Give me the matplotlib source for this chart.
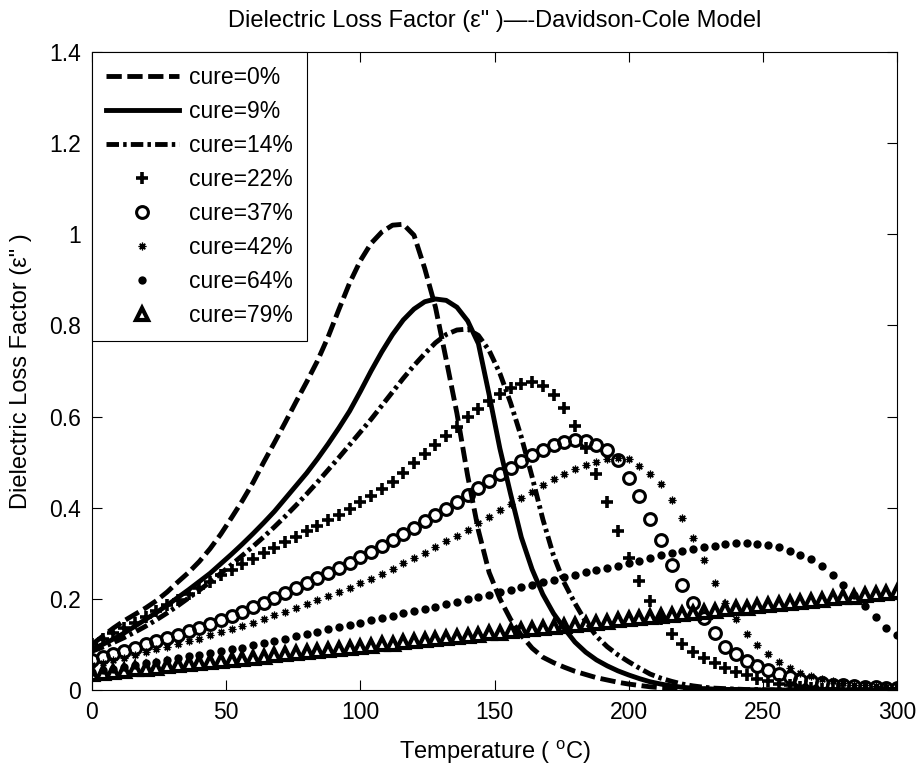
import matplotlib
matplotlib.use("Agg")
import matplotlib.pyplot as plt
import numpy as np
from matplotlib import ticker

plt.rcParams['font.family'] = ['Liberation Sans', 'DejaVu Sans']
plt.rcParams['mathtext.fontset'] = 'custom'
plt.rcParams['mathtext.rm'] = 'Liberation Sans'
plt.rcParams['lines.scale_dashes'] = False

# temperature grid (deg C)
temp = np.arange(0, 301, 4)

labels = ["cure=0%", "cure=9%", "cure=14%", "cure=22%",
          "cure=37%", "cure=42%", "cure=64%", "cure=79%"]

cure_0 = [0.100, 0.118, 0.136, 0.152, 0.166, 0.180, 0.196, 0.215, 0.237, 0.258,
          0.282, 0.310, 0.342, 0.378, 0.415, 0.455, 0.500, 0.543, 0.587, 0.632,
          0.676, 0.722, 0.775, 0.835, 0.893, 0.942, 0.980, 1.005, 1.020, 1.022,
          0.998, 0.925, 0.840, 0.725, 0.607, 0.470, 0.350, 0.258, 0.200, 0.155,
          0.120, 0.092, 0.072, 0.060, 0.050, 0.041, 0.034, 0.027, 0.022, 0.017,
          0.013, 0.010, 0.007, 0.005, 0.004, 0.003, 0.002, 0.002, 0.001, 0.001,
          0.001, 0, 0, 0, 0, 0, 0, 0, 0, 0,
          0, 0, 0, 0, 0, 0]

cure_9 = [0.090, 0.100, 0.112, 0.125, 0.140, 0.155, 0.170, 0.186, 0.203, 0.220,
          0.238, 0.256, 0.277, 0.298, 0.320, 0.343, 0.367, 0.392, 0.420, 0.448,
          0.476, 0.507, 0.540, 0.575, 0.612, 0.655, 0.700, 0.742, 0.780, 0.812,
          0.836, 0.852, 0.858, 0.855, 0.840, 0.810, 0.760, 0.648, 0.530, 0.430,
          0.335, 0.265, 0.210, 0.168, 0.135, 0.105, 0.083, 0.066, 0.053, 0.042,
          0.033, 0.025, 0.018, 0.013, 0.009, 0.006, 0.004, 0.003, 0.002, 0.001,
          0.001, 0, 0, 0, 0, 0, 0, 0, 0, 0,
          0, 0, 0, 0, 0, 0]

cure_14 = [0.085, 0.094, 0.104, 0.115, 0.127, 0.140, 0.154, 0.169, 0.185, 0.202,
           0.219, 0.237, 0.256, 0.275, 0.295, 0.315, 0.336, 0.358, 0.381, 0.405,
           0.430, 0.456, 0.483, 0.510, 0.538, 0.566, 0.594, 0.624, 0.654, 0.684,
           0.712, 0.738, 0.762, 0.780, 0.790, 0.792, 0.778, 0.745, 0.695, 0.630,
           0.555, 0.468, 0.375, 0.295, 0.235, 0.190, 0.150, 0.118, 0.095, 0.077,
           0.062, 0.048, 0.035, 0.026, 0.019, 0.013, 0.009, 0.006, 0.004, 0.003,
           0.002, 0.001, 0.001, 0, 0, 0, 0, 0, 0, 0,
           0, 0, 0, 0, 0, 0]

cure_22 = [0.100, 0.112, 0.124, 0.136, 0.148, 0.160, 0.173, 0.186, 0.198, 0.211,
           0.224, 0.238, 0.252, 0.264, 0.276, 0.288, 0.300, 0.312, 0.324, 0.336,
           0.348, 0.360, 0.372, 0.385, 0.398, 0.412, 0.426, 0.441, 0.457, 0.477,
           0.498, 0.518, 0.538, 0.558, 0.578, 0.598, 0.617, 0.635, 0.650, 0.662,
           0.672, 0.675, 0.668, 0.648, 0.618, 0.580, 0.532, 0.475, 0.412, 0.348,
           0.290, 0.240, 0.195, 0.155, 0.123, 0.100, 0.083, 0.070, 0.059, 0.049,
           0.040, 0.032, 0.025, 0.019, 0.014, 0.010, 0.007, 0.005, 0.003, 0.002,
           0.001, 0.001, 0, 0, 0, 0]

cure_37 = [0.065, 0.072, 0.079, 0.086, 0.093, 0.100, 0.107, 0.114, 0.121, 0.129,
           0.137, 0.145, 0.154, 0.163, 0.172, 0.182, 0.192, 0.202, 0.212, 0.223,
           0.234, 0.245, 0.256, 0.267, 0.279, 0.291, 0.303, 0.316, 0.329, 0.342,
           0.356, 0.370, 0.384, 0.398, 0.413, 0.428, 0.443, 0.458, 0.473, 0.488,
           0.502, 0.515, 0.527, 0.537, 0.544, 0.548, 0.546, 0.538, 0.526, 0.505,
           0.465, 0.425, 0.375, 0.330, 0.275, 0.230, 0.192, 0.158, 0.125, 0.095,
           0.078, 0.064, 0.053, 0.044, 0.036, 0.029, 0.023, 0.019, 0.015, 0.012,
           0.010, 0.008, 0.007, 0.006, 0.005, 0.005]

cure_42 = [0.055, 0.060, 0.066, 0.071, 0.077, 0.083, 0.089, 0.095, 0.101, 0.107,
           0.113, 0.120, 0.127, 0.134, 0.141, 0.148, 0.156, 0.164, 0.172, 0.180,
           0.189, 0.197, 0.206, 0.215, 0.224, 0.234, 0.244, 0.255, 0.266, 0.278,
           0.289, 0.301, 0.313, 0.326, 0.339, 0.352, 0.366, 0.380, 0.394, 0.408,
           0.421, 0.435, 0.449, 0.462, 0.474, 0.485, 0.494, 0.501, 0.506, 0.509,
           0.506, 0.492, 0.475, 0.452, 0.416, 0.377, 0.333, 0.285, 0.235, 0.192,
           0.155, 0.123, 0.099, 0.078, 0.061, 0.048, 0.038, 0.030, 0.024, 0.019,
           0.015, 0.012, 0.010, 0.008, 0.007, 0.006]

cure_64 = [0.040, 0.044, 0.047, 0.051, 0.055, 0.059, 0.062, 0.066, 0.070, 0.074,
           0.077, 0.081, 0.085, 0.089, 0.093, 0.098, 0.103, 0.108, 0.113, 0.118,
           0.123, 0.128, 0.133, 0.138, 0.143, 0.148, 0.153, 0.158, 0.163, 0.168,
           0.173, 0.178, 0.183, 0.188, 0.193, 0.199, 0.204, 0.209, 0.214, 0.220,
           0.225, 0.230, 0.236, 0.241, 0.247, 0.252, 0.258, 0.263, 0.268, 0.273,
           0.278, 0.284, 0.290, 0.296, 0.301, 0.306, 0.310, 0.314, 0.317, 0.320,
           0.322, 0.322, 0.321, 0.318, 0.313, 0.305, 0.297, 0.287, 0.273, 0.252,
           0.230, 0.208, 0.185, 0.160, 0.137, 0.120]

cure_79 = [0.035, 0.037, 0.040, 0.042, 0.045, 0.047, 0.049, 0.052, 0.054, 0.057,
           0.059, 0.061, 0.064, 0.066, 0.069, 0.071, 0.073, 0.076, 0.078, 0.081,
           0.083, 0.085, 0.088, 0.090, 0.093, 0.095, 0.097, 0.100, 0.102, 0.105,
           0.107, 0.109, 0.112, 0.114, 0.117, 0.119, 0.121, 0.124, 0.126, 0.129,
           0.131, 0.133, 0.136, 0.138, 0.141, 0.143, 0.145, 0.148, 0.150, 0.153,
           0.155, 0.157, 0.160, 0.162, 0.165, 0.167, 0.169, 0.172, 0.174, 0.177,
           0.179, 0.181, 0.184, 0.186, 0.189, 0.191, 0.193, 0.196, 0.198, 0.201,
           0.203, 0.205, 0.208, 0.210, 0.213, 0.215]

fig = plt.figure(figsize=(9.23, 7.65), dpi=100)
ax = fig.add_axes([92 / 923, 1 - 690 / 765, 805 / 923, 638 / 765])

lw = 3.5
ax.plot(temp, cure_0, color='black', lw=lw, dashes=(11, 4), label=labels[0])
ax.plot(temp, cure_9, color='black', lw=lw, label=labels[1])
ax.plot(temp, cure_14, color='black', lw=lw, dashes=(9, 3, 2.5, 3), label=labels[2])
ax.plot(temp, cure_22, ls='none', marker='+', ms=8, mew=2.6, color='black', label=labels[3])
ax.plot(temp, cure_37, ls='none', marker='o', ms=8.5, mew=2.2, mfc='none', mec='black', label=labels[4])
ax.plot(temp, cure_42, ls='none', marker=(8, 2, 0), ms=5.5, mew=0.9, color='black', label=labels[5])
ax.plot(temp, cure_64, ls='none', marker='o', ms=6, mew=0, color='black', label=labels[6])
ax.plot(temp, cure_79, ls='none', marker='^', ms=8.5, mew=3, mfc='none', mec='black', label=labels[7])

ax.set_xlim(0, 300)
ax.set_ylim(0, 1.4)
ax.set_xticks(np.arange(0, 301, 50))
ax.set_yticks(np.arange(0, 1.41, 0.2))
ax.yaxis.set_major_formatter(ticker.FuncFormatter(lambda v, pos: f"{v:g}"))
ax.tick_params(direction='in', top=True, right=True, length=7, width=0.8,
               labelsize=16.5, pad=8)
for s in ax.spines.values():
    s.set_linewidth(0.8)

ax.set_title('Dielectric Loss Factor (\u03b5" )\u2014-Davidson-Cole Model', fontsize=17, pad=18)
ax.set_xlabel(r'Temperature ( $^{\mathrm{o}}$C)', fontsize=17, labelpad=10)
ax.set_ylabel('Dielectric Loss Factor (\u03b5" )', fontsize=17, labelpad=12)

leg = ax.legend(loc='upper left', borderaxespad=0, fancybox=False, edgecolor='black',
                framealpha=1, fontsize=16.5, handlelength=3.2, handletextpad=0.45,
                labelspacing=0.48, borderpad=0.6)
leg.get_frame().set_linewidth(0.8)

fig.savefig('out.png', dpi=100)
